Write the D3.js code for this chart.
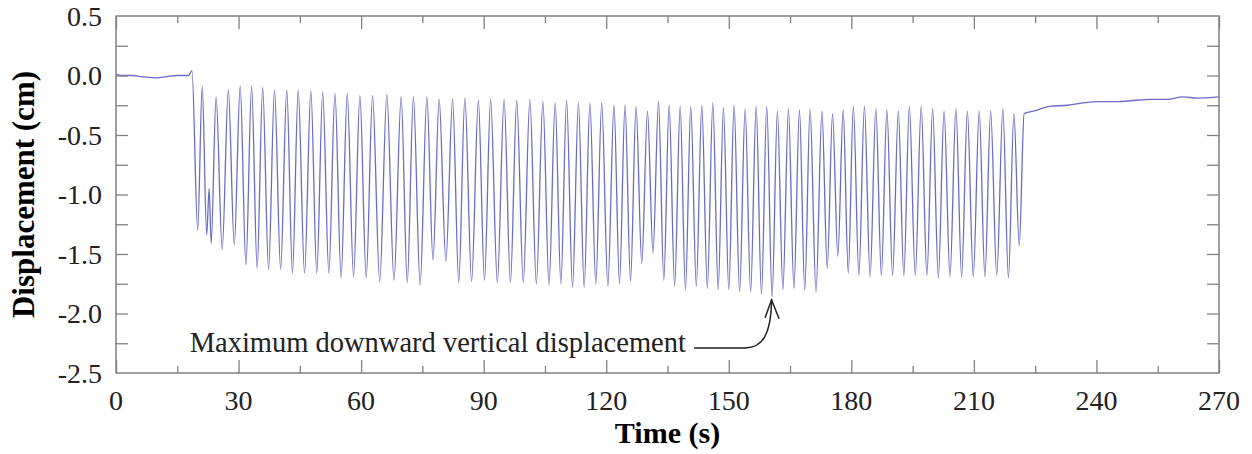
<!DOCTYPE html>
<html>
<head>
<meta charset="utf-8">
<script src="https://cdn.jsdelivr.net/npm/d3@7"></script>
<style>
  body { margin: 0; background: #fff; }
  svg { display: block; font-family: "Liberation Serif", "Times New Roman", serif; }
</style>
</head>
<body>
<svg width="1252" height="454"></svg>
<script>
// baseline before the test (s, cm)
var startTimes = [0, 2, 4.2, 6, 8.3, 10, 12.4, 14.9, 17.7, 18.6];
var startValues = [0.01, 0.0, 0.0, -0.01, -0.015, -0.02, -0.01, 0.0, 0.0, 0.04];

// oscillation crests
var peakTimes = [21.1, 22.8, 24.5, 27.5, 30.4, 33.2, 35.9, 38.8, 41.8, 44.6, 47.7, 50.6, 53.6, 56.6,
  59.7, 62.8, 66.3, 69.8, 72.8, 76.1, 79.1, 82.4, 85.4, 88.7, 91.7, 95.0, 98.1, 101.3, 104.5, 107.5,
  110.3, 113.2, 116.0, 118.9, 121.9, 124.6, 127.3, 130.1, 132.8, 135.4, 138.1, 140.7, 143.4, 146.1,
  148.7, 151.3, 154.0, 156.7, 159.3, 161.9, 164.6, 167.3, 169.9, 172.8, 175.4, 178.0, 180.5, 183.2,
  186.0, 188.7, 191.5, 194.2, 197.1, 199.9, 202.7, 205.6, 208.4, 211.3, 214.1, 217.1, 219.8];
var peakValues = [-0.09, -0.95, -0.18, -0.12, -0.09, -0.09, -0.10, -0.12, -0.12, -0.12, -0.13, -0.14, -0.15, -0.15,
  -0.17, -0.17, -0.16, -0.18, -0.18, -0.18, -0.20, -0.20, -0.19, -0.21, -0.20, -0.20, -0.21, -0.20, -0.22, -0.23,
  -0.21, -0.23, -0.23, -0.23, -0.25, -0.25, -0.26, -0.30, -0.22, -0.25, -0.26, -0.26, -0.25, -0.23,
  -0.27, -0.25, -0.28, -0.26, -0.26, -0.30, -0.28, -0.29, -0.28, -0.30, -0.32, -0.29, -0.26, -0.26,
  -0.28, -0.29, -0.30, -0.26, -0.26, -0.28, -0.30, -0.28, -0.30, -0.30, -0.30, -0.28, -0.32];

// oscillation troughs
var troughTimes = [20.0, 22.2, 23.3, 26.0, 28.95, 31.8, 34.55, 37.35, 40.3, 43.2, 46.15, 49.15, 52.1, 55.1,
  58.15, 61.25, 64.55, 68.05, 71.3, 74.45, 77.6, 80.75, 83.9, 87.05, 90.2, 93.35, 96.55, 99.7, 102.9,
  106.0, 108.9, 111.75, 114.6, 117.45, 120.4, 123.25, 125.95, 128.7, 131.45, 134.1, 136.75, 139.4,
  142.05, 144.75, 147.4, 150.0, 152.65, 155.35, 158.0, 160.6, 163.25, 165.95, 168.6, 171.35, 174.1,
  176.7, 179.25, 181.85, 184.6, 187.35, 190.1, 192.85, 195.65, 198.5, 201.3, 204.15, 207.0, 209.85,
  212.7, 215.6, 218.45, 221.1];
var troughValues = [-1.30, -1.34, -1.41, -1.46, -1.42, -1.59, -1.62, -1.63, -1.63, -1.66, -1.66, -1.66, -1.66, -1.70,
  -1.69, -1.70, -1.73, -1.72, -1.74, -1.76, -1.55, -1.56, -1.74, -1.73, -1.72, -1.74, -1.74, -1.74, -1.75,
  -1.76, -1.75, -1.78, -1.78, -1.75, -1.77, -1.75, -1.73, -1.58, -1.49, -1.72, -1.77, -1.80,
  -1.77, -1.79, -1.80, -1.80, -1.82, -1.82, -1.84, -1.86, -1.80, -1.79, -1.80, -1.82, -1.62,
  -1.52, -1.66, -1.68, -1.69, -1.68, -1.68, -1.68, -1.68, -1.68, -1.70, -1.69, -1.69, -1.69,
  -1.69, -1.68, -1.70, -1.43];

// recovery after the test
var endTimes = [222.3, 224.5, 228.6, 232.8, 236.7, 240.9, 245.0, 249.0, 253.1, 257.3, 261.2, 264.8, 270];
var endValues = [-0.32, -0.30, -0.26, -0.25, -0.23, -0.22, -0.22, -0.21, -0.20, -0.20, -0.18, -0.19, -0.18];

var xTicks = [0, 30, 60, 90, 120, 150, 180, 210, 240, 270];
var yTicks = [0.5, 0.0, -0.5, -1.0, -1.5, -2.0, -2.5];

var noteText = "Maximum downward vertical displacement";
var noteTime = 160.6, noteValue = -1.86;

var svg = d3.select("svg"),
  margin = { top: 16, right: 33, bottom: 81, left: 116 },
  width = svg.attr("width") - margin.left - margin.right,
  height = svg.attr("height") - margin.top - margin.bottom;

var x = d3.scaleLinear().domain([0, 270]).range([0, width]),
  y = d3.scaleLinear().domain([-2.5, 0.5]).range([height, 0]);

function pairs(ts, vs) { return ts.map((t, i) => ({ t: t, v: vs[i] })); }

var data = [].concat(pairs(startTimes, startValues), pairs(peakTimes, peakValues),
  pairs(troughTimes, troughValues), pairs(endTimes, endValues))
  .sort((a, b) => a.t - b.t);

var g = svg.append("g").attr("transform", `translate(${margin.left},${margin.top})`);

var line = d3.line()
  .x(d => x(d.t))
  .y(d => y(d.v))
  .curve(d3.curveMonotoneX);

g.append("path")
  .datum(data)
  .attr("fill", "none")
  .attr("stroke", "#6a6cc6")
  .attr("stroke-width", 1.3)
  .attr("d", line);

// frame and inward ticks on all four sides
var axisColor = "#808080";
var xMinor = d3.range(15, 270, 30);
var yAll = d3.range(-2.25, 0.5, 0.25);

function styleAxis(sel) {
  sel.select(".domain").remove();
  sel.selectAll("line").attr("stroke", axisColor).attr("stroke-width", 1.3);
}

g.append("g").attr("transform", `translate(0,${height})`)
  .call(d3.axisBottom(x).tickValues(xTicks).tickSizeInner(-13).tickFormat(""))
  .call(styleAxis);
g.append("g").attr("transform", `translate(0,${height})`)
  .call(d3.axisBottom(x).tickValues(xMinor).tickSizeInner(-7).tickFormat(""))
  .call(styleAxis);
g.append("g")
  .call(d3.axisTop(x).tickValues(xTicks).tickSizeInner(-13).tickFormat(""))
  .call(styleAxis);
g.append("g")
  .call(d3.axisTop(x).tickValues(xMinor).tickSizeInner(-7).tickFormat(""))
  .call(styleAxis);
g.append("g")
  .call(d3.axisLeft(y).tickValues(yAll).tickSizeInner(-12).tickFormat(""))
  .call(styleAxis);
g.append("g").attr("transform", `translate(${width},0)`)
  .call(d3.axisRight(y).tickValues(yAll).tickSizeInner(-12).tickFormat(""))
  .call(styleAxis);

g.append("rect")
  .attr("width", width).attr("height", height)
  .attr("fill", "none").attr("stroke", axisColor).attr("stroke-width", 1.5);

// tick labels (plain hyphen for the minus, as in the original)
g.selectAll(".xlab").data(xTicks).enter().append("text")
  .attr("x", d => x(d)).attr("y", height + 37)
  .attr("text-anchor", "middle")
  .style("font-size", "28px").attr("fill", "#222")
  .text(d => d);

g.selectAll(".ylab").data(yTicks).enter().append("text")
  .attr("x", -14).attr("y", d => y(d)).attr("dy", "0.34em")
  .attr("text-anchor", "end")
  .style("font-size", "28px").attr("fill", "#222")
  .text(d => d.toFixed(1).replace("−", "-"));

// axis titles
g.append("text")
  .attr("x", width / 2).attr("y", height + 70)
  .attr("text-anchor", "middle")
  .style("font-size", "30px").style("font-weight", "bold")
  .text("Time (s)");

svg.append("text")
  .attr("transform", `translate(34,${margin.top + height / 2}) rotate(-90)`)
  .attr("text-anchor", "middle")
  .style("font-size", "31px").style("font-weight", "bold")
  .text("Displacement (cm)");

// annotation
var tipX = x(noteTime), tipY = y(noteValue) + 3;
var baseY = y(-2.29);
g.append("text")
  .attr("x", x(139.5)).attr("y", y(-2.32))
  .attr("text-anchor", "end")
  .style("font-size", "28.5px").attr("fill", "#222")
  .text(noteText);

var arrow = d3.path();
arrow.moveTo(x(141.5), baseY);
arrow.lineTo(tipX - 27, baseY);
arrow.bezierCurveTo(tipX - 10, baseY, tipX - 1, baseY - 13, tipX - 0.5, tipY);
g.append("path").attr("d", arrow.toString())
  .attr("fill", "none").attr("stroke", "#222").attr("stroke-width", 1.5);

var head = d3.path();
head.moveTo(tipX - 7, tipY + 18);
head.lineTo(tipX - 0.5, tipY);
head.lineTo(tipX + 7, tipY + 19);
g.append("path").attr("d", head.toString())
  .attr("fill", "none").attr("stroke", "#222").attr("stroke-width", 1.5);
</script>
</body>
</html>
